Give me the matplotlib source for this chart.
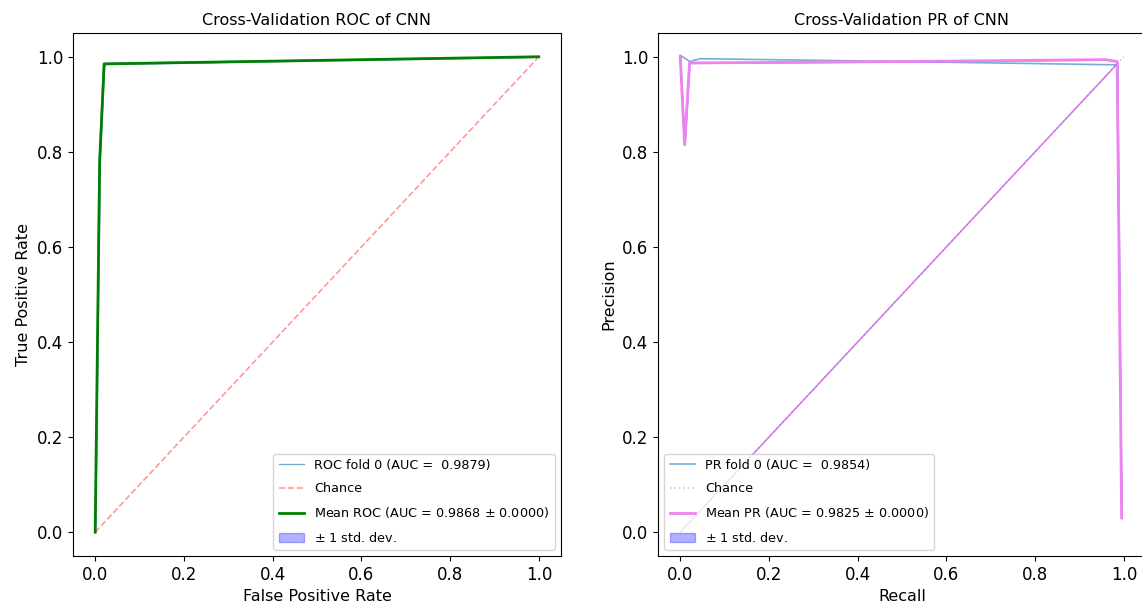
import numpy as np
import matplotlib
matplotlib.use('Agg')
import matplotlib.pyplot as plt

# ROC data
roc_fold_fpr = [0.0, 0.009, 0.019, 1.0]
roc_fold_tpr = [0.0, 0.78, 0.986, 1.0]
roc_mean_fpr = [0.0, 0.0101, 0.0202, 1.0]
roc_mean_tpr = [0.0, 0.78, 0.985, 1.0]
roc_fold_auc = 0.9879
roc_mean_auc = 0.9868
roc_std_auc = 0.0

# PR data
pr_fold_rec = [0.0, 0.022, 0.045, 0.5, 0.985, 0.99]
pr_fold_prec = [1.003, 0.99, 0.996, 0.99, 0.983, 0.5]
pr_mean_rec = [0.0, 0.01, 0.021, 0.5, 0.96, 0.985, 0.995]
pr_mean_prec = [1.0, 0.815, 0.987, 0.99, 0.994, 0.99, 0.03]
pr_band_rec = [0.0, 0.985]
pr_band_prec = [0.0, 0.985]
pr_fold_auc = 0.9854
pr_mean_auc = 0.9825
pr_std_auc = 0.0

chance = [0, 1]

fig = plt.figure(figsize=(11.42, 6.08), dpi=100)
ax1 = fig.add_axes([73/1142, 52/608, 488/1142, 523/608])
ax2 = fig.add_axes([658/1142, 52/608, 488/1142, 523/608])

# ROC
ax1.plot(roc_fold_fpr, roc_fold_tpr, lw=1, alpha=0.6, color='tab:blue',
         label='ROC fold 0 (AUC =  %0.4f)' % roc_fold_auc)
ax1.plot(chance, chance, linestyle='--', lw=1.2, color='r', alpha=0.4, label='Chance')
ax1.plot(roc_mean_fpr, roc_mean_tpr, color='g', lw=2,
         label=r'Mean ROC (AUC = %0.4f $\pm$ %0.4f)' % (roc_mean_auc, roc_std_auc))
ax1.fill_between(roc_mean_fpr, roc_mean_tpr, roc_mean_tpr, color='blue', alpha=0.3,
                 label=r'$\pm$ 1 std. dev.')
ax1.set_xlim(-0.05, 1.05)
ax1.set_ylim(-0.05, 1.05)
ax1.set_xlabel('False Positive Rate', fontsize=11.5)
ax1.set_ylabel('True Positive Rate', fontsize=11.5)
ax1.set_title('Cross-Validation ROC of CNN', fontsize=11.5)
ax1.legend(loc='lower right', fontsize=9.2, labelspacing=0.8)

# PR
ax2.plot(chance, chance, linestyle=':', lw=1.2, color='r', alpha=0.3, label='Chance')
ax2.plot(pr_band_rec, pr_band_prec, color='violet', lw=1.3, alpha=0.7)
ax2.plot(pr_band_rec, pr_band_prec, color='blue', lw=0.7, alpha=0.25)
ax2.plot(pr_fold_rec, pr_fold_prec, lw=1.2, alpha=0.6, color='tab:blue',
         label='PR fold 0 (AUC =  %0.4f)' % pr_fold_auc)
ax2.plot(pr_mean_rec, pr_mean_prec, color='violet', lw=2,
         label=r'Mean PR (AUC = %0.4f $\pm$ %0.4f)' % (pr_mean_auc, pr_std_auc))
ax2.fill_between(pr_mean_rec, pr_mean_prec, pr_mean_prec, color='blue', alpha=0.3,
                 label=r'$\pm$ 1 std. dev.')
ax2.set_xlim(-0.05, 1.05)
ax2.set_ylim(-0.05, 1.05)
ax2.set_xlabel('Recall', fontsize=11.5)
ax2.set_ylabel('Precision', fontsize=11.5)
ax2.set_title('Cross-Validation PR of CNN', fontsize=11.5)
h, l = ax2.get_legend_handles_labels()
order = [1, 0, 2, 3]
ax2.legend([h[i] for i in order], [l[i] for i in order], loc='lower left',
           fontsize=9.2, labelspacing=0.8)

for ax in (ax1, ax2):
    ax.tick_params(labelsize=12)

fig.savefig('out.png', dpi=100)
